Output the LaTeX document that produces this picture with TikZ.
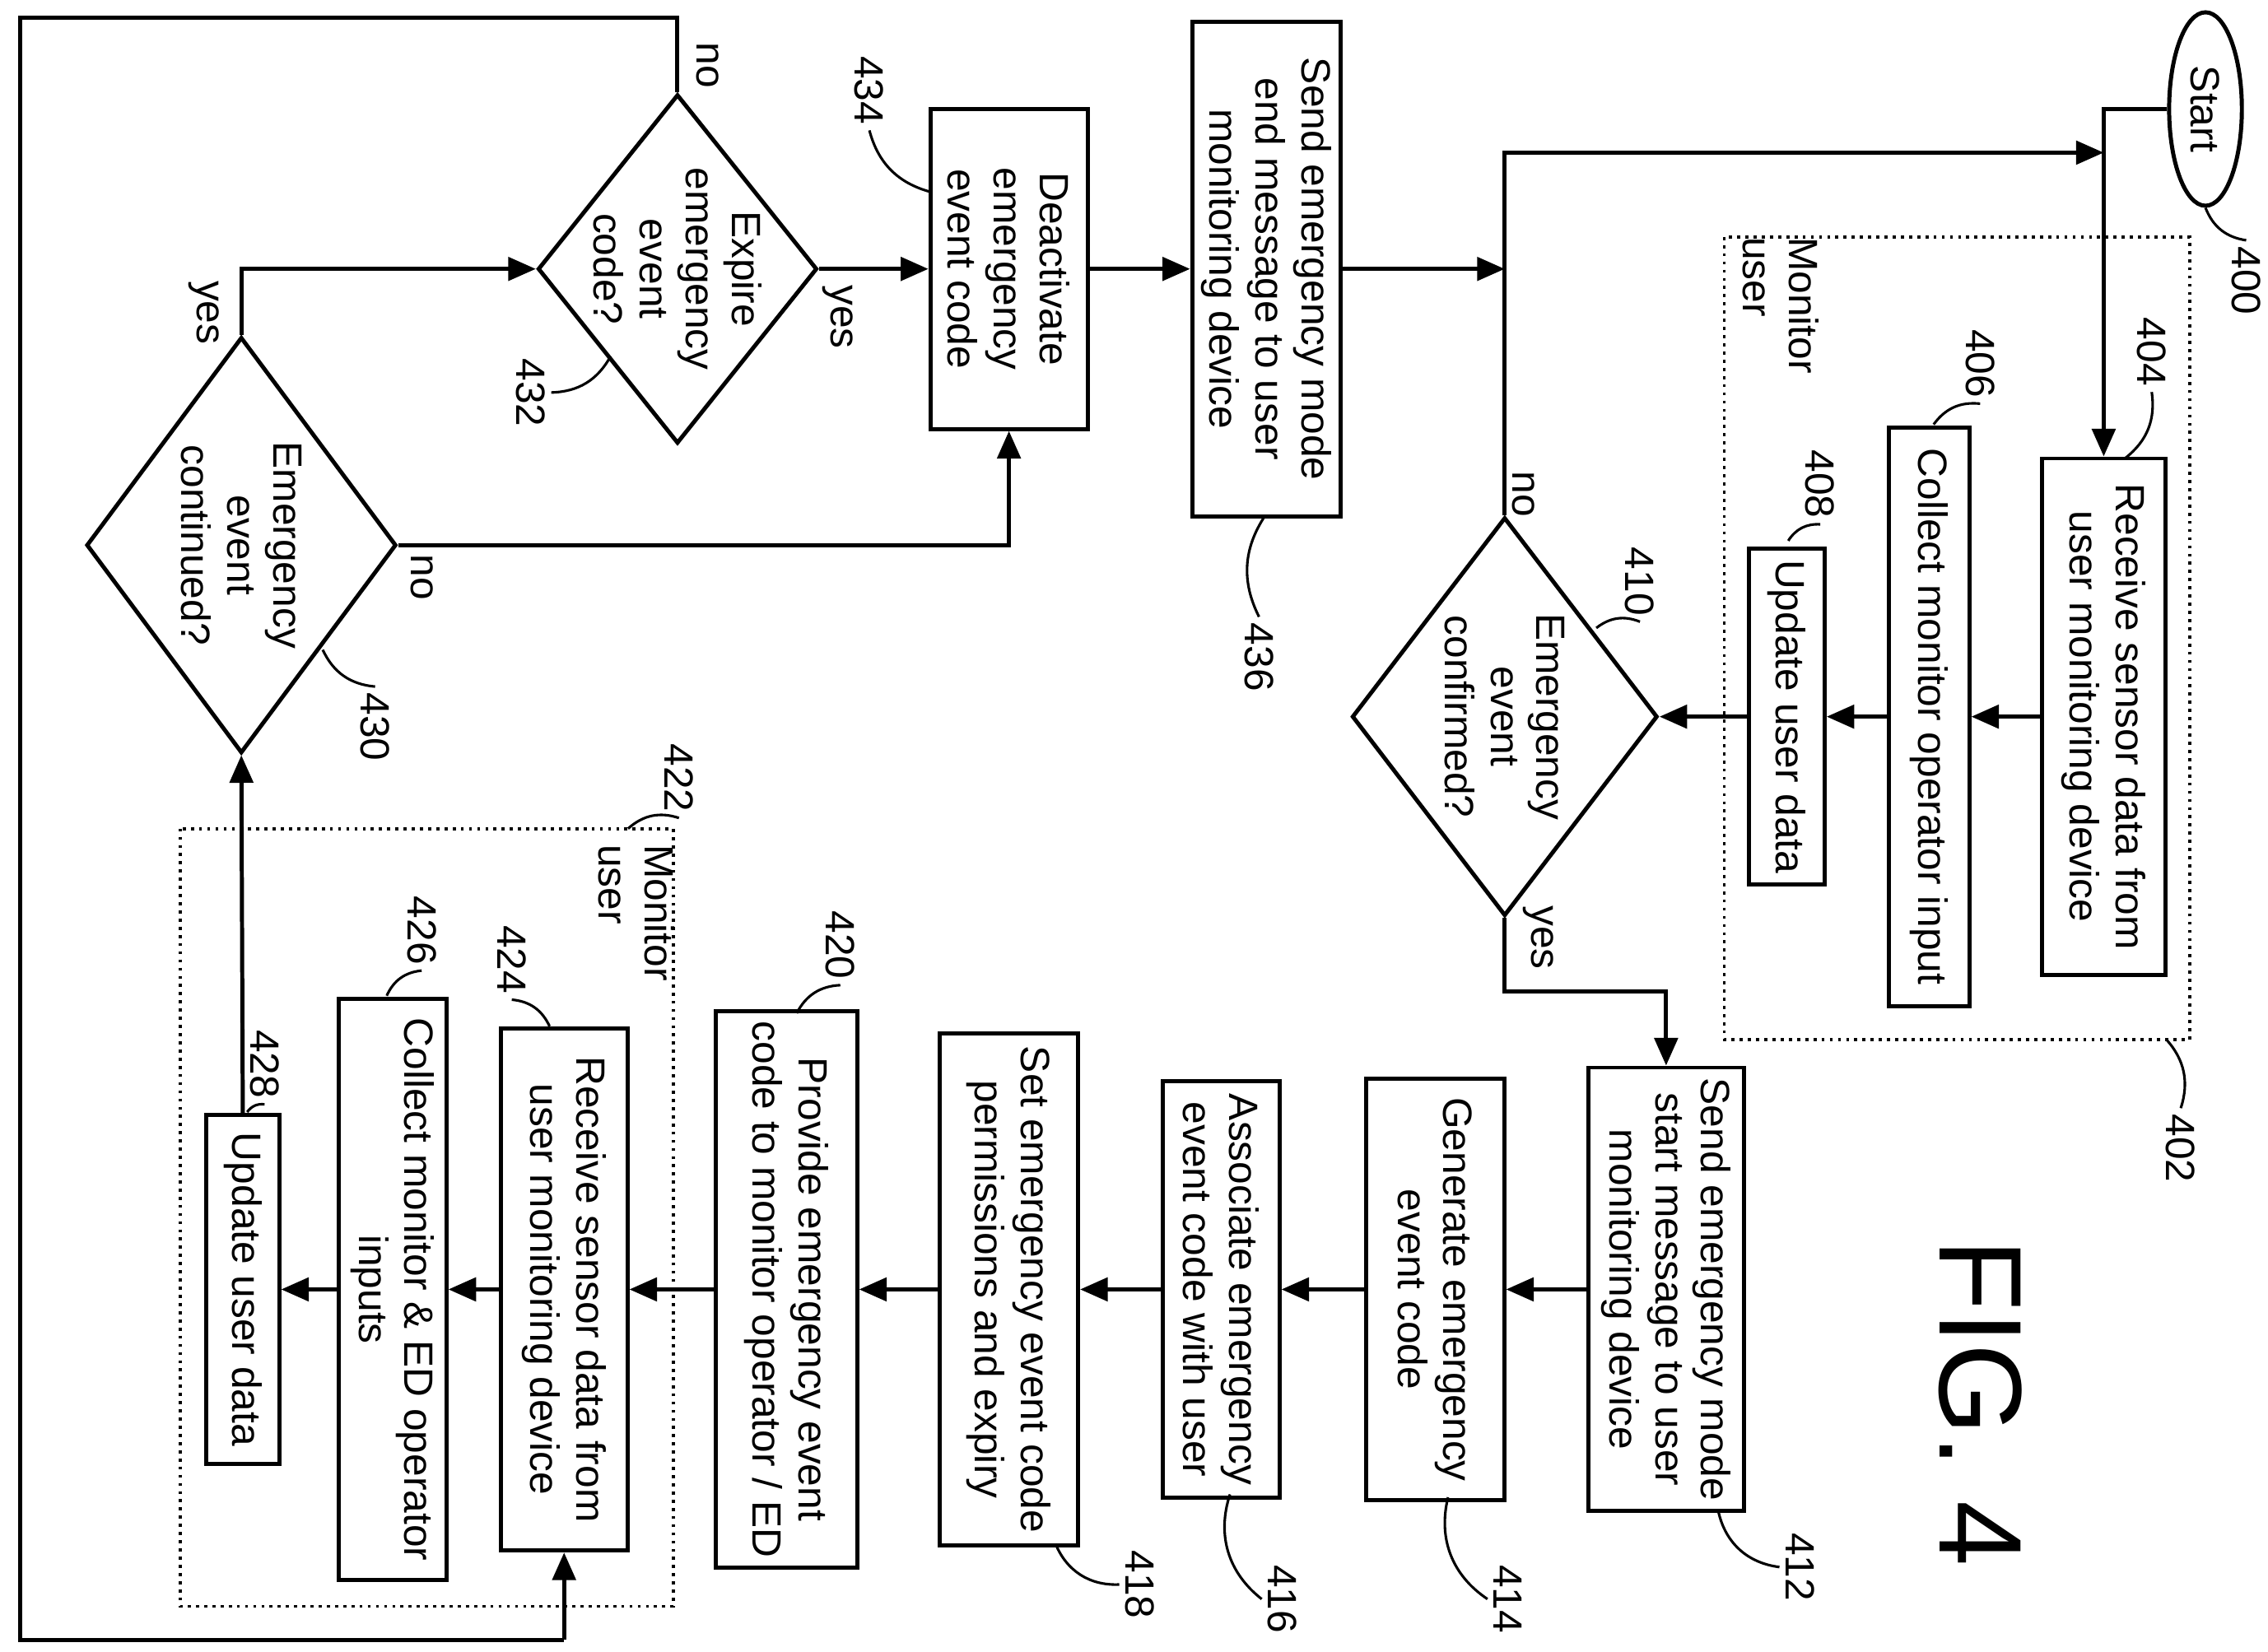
\documentclass[tikz,border=0pt]{standalone}
\usepackage{fontspec}
\setmainfont{Liberation Sans}
\usetikzlibrary{arrows.meta,shapes.geometric}

\tikzset{
  box/.style={draw,line width=0.8pt,rotate=-90,align=center,inner sep=1pt,
              font=\fontsize{8}{9}\selectfont},
  dec/.style={draw,line width=0.8pt,diamond,rotate=-90,align=center,inner sep=-0.2cm,
              font=\fontsize{8}{9}\selectfont},
  lbl/.style={rotate=-90,inner sep=1pt,font=\fontsize{8}{9}\selectfont},
  grp/.style={draw,densely dotted,line width=0.6pt},
  lead/.style={line width=0.5pt},
  line/.style={line width=0.8pt},
  arr/.style={line width=0.8pt,-{Triangle[length=0.19cm,width=0.16cm]}}
}

\begin{document}
\begin{tikzpicture}[x=0.01cm,y=-0.01cm]
\useasboundingbox (0,0) rectangle (1560,1136);

% groups
\draw[grp] (1186,163) rectangle (1506,715);
\node[lbl,align=left] (mon1) at (1225,210) {Monitor\\user};
\draw[grp] (124,570) rectangle (463,1105);
\node[lbl,align=left] (mon2) at (438,628) {Monitor\\user};

% steps
\node[box,ellipse,minimum width=1.33cm,minimum height=0.5cm] (start) at (1517,75) {Start};
\node[box,minimum width=3.55cm,minimum height=0.85cm] (b404) at (1447,493) {Receive sensor data from\\user monitoring device};
\node[box,minimum width=3.98cm,minimum height=0.55cm] (b406) at (1327,493) {Collect monitor operator input};
\node[box,minimum width=2.31cm,minimum height=0.52cm] (b408) at (1229,493) {Update user data};
\node[dec,minimum width=2.74cm,minimum height=2.1cm] (d410) at (1035,493) {Emergency\\event\\confirmed?};
\node[box,minimum width=3.05cm,minimum height=1.07cm] (b412) at (1146,887) {Send emergency mode\\start message to user\\monitoring device};
\node[box,minimum width=2.9cm,minimum height=0.95cm] (b414) at (987,887) {Generate emergency\\event code};
\node[box,minimum width=2.86cm,minimum height=0.8cm] (b416) at (840,887) {Associate emergency\\event code with user};
\node[box,minimum width=3.52cm,minimum height=0.95cm] (b418) at (694,887) {Set emergency event code\\permissions and expiry};
\node[box,minimum width=3.83cm,minimum height=0.97cm] (b420) at (541,887) {Provide emergency event\\code to monitor operator / ED};
\node[box,minimum width=3.59cm,minimum height=0.87cm] (b424) at (388,887) {Receive sensor data from\\user monitoring device};
\node[box,minimum width=4cm,minimum height=0.74cm] (b426) at (270,887) {Collect monitor \& ED operator\\inputs};
\node[box,minimum width=2.4cm,minimum height=0.5cm] (b428) at (167,887) {Update user data};
\node[dec,minimum width=2.86cm,minimum height=2.13cm] (d430) at (166,375) {Emergency\\event\\continued?};
\node[dec,minimum width=2.4cm,minimum height=1.92cm,inner sep=-0.3cm] (d432) at (466,185) {Expire\\emergency\\event\\code?};
\node[box,minimum width=2.2cm,minimum height=1.08cm] (b434) at (694,185) {Deactivate\\emergency\\event code};
\node[box,minimum width=3.4cm,minimum height=1.02cm] (b436) at (871,185) {Send emergency mode\\end message to user\\monitoring device};

% reference numbers
\node[lbl] (n400) at (1545,193) {400};
\node[lbl] (n402) at (1500,790) {402};
\node[lbl] (n404) at (1480,242) {404};
\node[lbl] (n406) at (1362,250) {406};
\node[lbl] (n408) at (1252,333) {408};
\node[lbl] (n410) at (1128,400) {410};
\node[lbl] (n412) at (1238,1078) {412};
\node[lbl] (n414) at (1037,1100) {414};
\node[lbl] (n416) at (882,1100) {416};
\node[lbl] (n418) at (784,1090) {418};
\node[lbl] (n420) at (578,650) {420};
\node[lbl] (n422) at (467,535) {422};
\node[lbl] (n424) at (352,660) {424};
\node[lbl] (n426) at (290,640) {426};
\node[lbl] (n428) at (182,732) {428};
\node[lbl] (n430) at (258,500) {430};
\node[lbl] (n432) at (365,270) {432};
\node[lbl] (n434) at (598,62) {434};
\node[lbl] (n436) at (866,452) {436};
\node[rotate=-90,font=\fontsize{23}{25}\selectfont] (fig) at (1362,965) {FIG. 4};

% yes / no
\node[lbl] (t410n) at (1048,340) {no};
\node[lbl] (t410y) at (1058,645) {yes};
\node[lbl] (t430y) at (140,215) {yes};
\node[lbl] (t430n) at (290,397) {no};
\node[lbl] (t432n) at (487,45) {no};
\node[lbl] (t432y) at (576,218) {yes};

% leaders
\draw[lead] (start.east) to[bend right=30] (n400.west);
\draw[lead] (1490,715) to[bend left=30] (n402.west);
\draw[lead] (1462,315) to[bend right=30] (n404.east);
\draw[lead] (1330,292) to[bend left=30] (n406.east);
\draw[lead] (1230,372) to[bend left=30] (n408.east);
\draw[lead] (1098,432) to[bend left=30] (n410.east);
\draw[lead] (1182,1040) to[bend right=35] (n412.south);
\draw[lead] (996,1030) to[bend right=35] (n414.south);
\draw[lead] (846,1028) to[bend right=35] (n416.south);
\draw[lead] (726,1062) to[bend right=35] (n418.south);
\draw[lead] (548,697) to[bend left=30] (n420.east);
\draw[lead] (432,570) to[bend left=30] (n422.east);
\draw[lead] (378,706) to[bend right=30] (n424.east);
\draw[lead] (266,685) to[bend left=30] (n426.east);
\draw[lead] (170,765) to[bend left=30] (n428.east);
\draw[lead] (222,447) to[bend right=30] (n430.west);
\draw[lead] (420,245) to[bend left=30] (n432.north);
\draw[lead] (640,132) to[bend left=30] (n434.east);
\draw[lead] (870,355) to[bend right=30] (n436.west);

% connectors
\draw[arr] (start.south) -| (b404.west);
\draw[arr] (b404.south) -- (b406.north);
\draw[arr] (b406.south) -- (b408.north);
\draw[arr] (b408.south) -- (d410.north);
\draw[arr] (d410.west) |- (1447,105);
\draw[arr] (d410.east) -- (1035,682) -| (b412.west);
\draw[arr] (b412.south) -- (b414.north);
\draw[arr] (b414.south) -- (b416.north);
\draw[arr] (b416.south) -- (b418.north);
\draw[arr] (b418.south) -- (b420.north);
\draw[arr] (b420.south) -- (b424.north);
\draw[arr] (b424.south) -- (b426.north);
\draw[arr] (b426.south) -- (b428.north);
\draw[arr] (b428.west) -- (d430.east);
\draw[arr] (d430.west) |- (d432.south);
\draw[arr] (d430.north) -| (b434.east);
\draw[arr] (d432.north) -- (b434.south);
\draw[line] (d432.west) -- (466,12) -- (14,12) -- (14,1128) -- (388,1128);
\draw[arr] (388,1128) -- (b424.east);
\draw[arr] (b434.north) -- (b436.south);
\draw[arr] (b436.north) -- (1035,185);
\end{tikzpicture}
\end{document}
